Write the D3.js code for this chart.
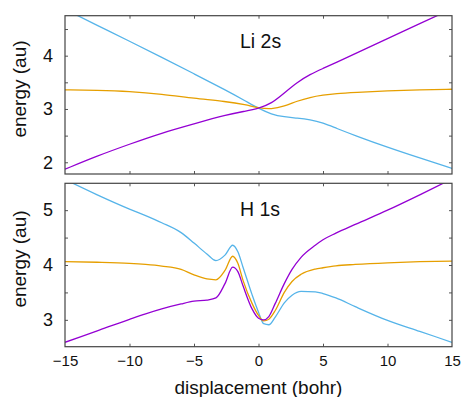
<!DOCTYPE html>
<html>
<head>
<meta charset="utf-8">
<script src="https://cdn.jsdelivr.net/npm/d3@7"></script>
<style>
  body { margin: 0; background: #fff; }
  text { font-family: "Liberation Sans", Arial, sans-serif; fill: #111; }
</style>
</head>
<body>
<svg id="chart" width="464" height="397"></svg>
<script>
// displacement grid (bohr) and energies (au)
const liX      = [-15, -12.5, -10, -7.5, -5, -2.5, -1, 0, 1, 2, 3, 4, 5, 6, 7.5, 10, 12.5, 15]
const liPurple = [1.87, 2.12, 2.34, 2.55, 2.72, 2.89, 2.96, 3.01, 3.10, 3.30, 3.50, 3.65, 3.76, 3.87, 4.04, 4.32, 4.60, 4.88]
const liOrange = [3.36, 3.35, 3.33, 3.28, 3.20, 3.14, 3.08, 3.02, 2.995, 3.05, 3.15, 3.22, 3.26, 3.29, 3.31, 3.34, 3.36, 3.37]
const liBlue   = [4.87, 4.57, 4.27, 3.97, 3.66, 3.35, 3.15, 3.01, 2.90, 2.85, 2.83, 2.80, 2.74, 2.64, 2.50, 2.28, 2.08, 1.885]

const hX      = [-15, -12.5, -10, -8.75, -7.5, -6, -5, -4, -3.3, -2.6, -2, -1.6, -1.2, -0.5, 0, 0.4, 0.8, 1.3, 2, 2.6, 3.3, 4.4, 5, 6, 7.5, 10, 12.5, 15]
const hPurple = [2.59, 2.80, 3.01, 3.11, 3.20, 3.29, 3.34, 3.36, 3.40, 3.66, 3.96, 3.88, 3.62, 3.20, 3.03, 3.00, 3.06, 3.30, 3.66, 3.92, 4.14, 4.36, 4.46, 4.58, 4.74, 5.00, 5.28, 5.57]
const hOrange = [4.06, 4.05, 4.03, 4.01, 3.98, 3.92, 3.82, 3.745, 3.73, 3.90, 4.16, 4.03, 3.72, 3.30, 3.08, 2.98, 3.01, 3.17, 3.50, 3.70, 3.83, 3.925, 3.95, 3.985, 4.01, 4.04, 4.06, 4.07]
const hBlue   = [5.56, 5.28, 5.02, 4.90, 4.77, 4.59, 4.40, 4.20, 4.08, 4.18, 4.36, 4.24, 3.96, 3.46, 3.14, 2.93, 2.91, 3.05, 3.31, 3.45, 3.52, 3.51, 3.48, 3.40, 3.24, 2.99, 2.79, 2.59]

const xTicks = [-15, -10, -5, 0, 5, 10, 15]
const colors = {purple: "#9400d3", orange: "#e69f00", blue: "#56b4e9"}

const svg = d3.select("#chart")
const left = 65, right = 452

const x = d3.scaleLinear().domain([-15, 15]).range([left, right])

const panels = [
  {name: "Li 2s", xs: liX, series: [liBlue, liOrange, liPurple], domain: [1.78, 4.75], top: 15.7, bottom: 174,
   yTicks: [2, 2.5, 3, 3.5, 4, 4.5], titleY: 89, labelY: 48, xLabels: false, curve: d3.curveBasis},
  {name: "H 1s", xs: hX, series: [hBlue, hOrange, hPurple], domain: [2.51, 5.49], top: 183.3, bottom: 346.7,
   yTicks: [3, 3.5, 4, 4.5, 5], titleY: 259, labelY: 216, xLabels: true, curve: d3.curveMonotoneX}
]
const seriesColors = [colors.blue, colors.orange, colors.purple]

panels.forEach((p, i) => {
  const y = d3.scaleLinear().domain(p.domain).range([p.bottom, p.top])
  const g = svg.append("g")

  g.append("clipPath").attr("id", "clip" + i)
    .append("rect").attr("x", left).attr("y", p.top).attr("width", right - left).attr("height", p.bottom - p.top)

  const line = d3.line().curve(p.curve)
  const lines = g.append("g").attr("clip-path", "url(#clip" + i + ")")
  p.series.forEach((vals, k) => {
    lines.append("path")
      .attr("d", line(p.xs.map((d, j) => [x(d), y(vals[j])])))
      .attr("fill", "none")
      .attr("stroke", seriesColors[k])
      .attr("stroke-width", 1.3)
  })

  // inward ticks on all four sides
  const fmt = d => Number.isInteger(d) ? d3.format("d")(d) : ""
  const inner = xTicks.slice(1, -1)
  const bottomAx = g.append("g").attr("transform", `translate(0,${p.bottom})`)
    .call(d3.axisBottom(x).tickValues(p.xLabels ? xTicks : inner).tickSize(-3).tickPadding(9)
      .tickFormat(p.xLabels ? d3.format("d") : () => ""))
  g.append("g").attr("transform", `translate(0,${p.top})`)
    .call(d3.axisTop(x).tickValues(inner).tickSize(-3).tickFormat(() => ""))
  const leftAx = g.append("g").attr("transform", `translate(${left},0)`)
    .call(d3.axisLeft(y).tickValues(p.yTicks).tickSize(-3).tickPadding(12).tickFormat(fmt))
  g.append("g").attr("transform", `translate(${right},0)`)
    .call(d3.axisRight(y).tickValues(p.yTicks).tickSize(-3).tickFormat(() => ""))

  g.selectAll(".domain").remove()
  g.selectAll(".tick line").attr("stroke", "#555")
  bottomAx.selectAll("text").attr("font-size", 15).attr("fill", "#111")
  leftAx.selectAll("text").attr("font-size", 18).attr("fill", "#111")
  if (p.xLabels) bottomAx.selectAll(".tick").filter(d => d === -15 || d === 15).select("line").remove()

  g.append("rect")
    .attr("x", left).attr("y", p.top).attr("width", right - left).attr("height", p.bottom - p.top)
    .attr("fill", "none").attr("stroke", "#444").attr("stroke-width", 1.2)

  g.append("text").attr("x", 240).attr("y", p.labelY).attr("font-size", 19.5).text(p.name)

  g.append("text")
    .attr("transform", `translate(26,${p.titleY}) rotate(-90)`)
    .attr("text-anchor", "middle").attr("font-size", 19)
    .text("energy (au)")
})

svg.append("text").attr("x", 258.5).attr("y", 394).attr("text-anchor", "middle")
  .attr("font-size", 19).text("displacement (bohr)")
</script>
</body>
</html>
